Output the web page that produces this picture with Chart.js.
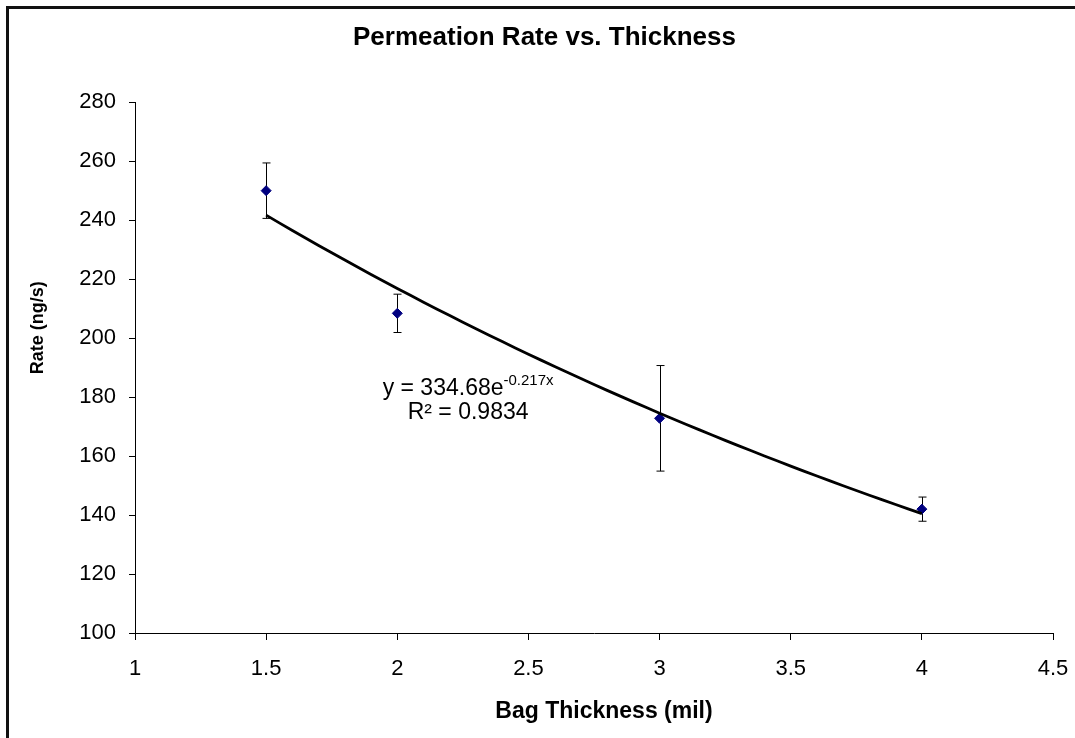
<!DOCTYPE html>
<html>
<head>
<meta charset="utf-8">
<script src="https://cdn.jsdelivr.net/npm/chart.js@4.4.1/dist/chart.umd.min.js"></script>
<style>
  html, body { margin: 0; padding: 0; background: #fff; overflow: hidden; }
  #wrap { position: relative; width: 1075px; height: 738px; }
  #frame { position: absolute; left: 6px; top: 6px; width: 1200px; height: 900px; border: 3px solid #111; box-sizing: border-box; }
  canvas { position: absolute; left: 0; top: 0; }
</style>
</head>
<body>
<div id="wrap">
  <div id="frame"></div>
  <canvas id="chart" width="1075" height="738"></canvas>
</div>
<script>
// Bag thickness (mil) and measured permeation rate (ng/s)
const thickness = [1.5, 2, 3, 4];
const rate = [250.0, 208.4, 172.8, 142.0];
const rateError = [9.4, 6.5, 17.9, 4.1];

// Exponential fit reported on the chart: y = a * e^(b x)
const trendA = 334.68;
const trendB = -0.217;
const trendR2 = 0.9834;

const xRange = { min: 1, max: 4.5, step: 0.5 };
const yRange = { min: 100, max: 280, step: 20 };

const FONT = "'Liberation Sans', Arial, sans-serif";

// sample the fitted curve over the measured range
const trendPoints = [];
for (let x = thickness[0]; x <= thickness[thickness.length - 1] + 1e-9; x += 0.05) {
  trendPoints.push({ x: x, y: trendA * Math.exp(trendB * x) });
}

// vertical error bars with small caps
const errorBars = {
  id: "errorBars",
  beforeDatasetsDraw(chart) {
    const { ctx, scales: { x, y } } = chart;
    ctx.save();
    ctx.strokeStyle = "#000";
    ctx.lineWidth = 1;
    thickness.forEach((t, i) => {
      const px = Math.round(x.getPixelForValue(t)) + 0.5;
      const top = y.getPixelForValue(rate[i] + rateError[i]);
      const bot = y.getPixelForValue(rate[i] - rateError[i]);
      ctx.beginPath();
      ctx.moveTo(px, top);
      ctx.lineTo(px, bot);
      ctx.moveTo(px - 4, top);
      ctx.lineTo(px + 4, top);
      ctx.moveTo(px - 4, bot);
      ctx.lineTo(px + 4, bot);
      ctx.stroke();
    });
    ctx.restore();
  }
};

// trendline equation and both axis titles
const labels = {
  id: "labels",
  afterDraw(chart) {
    const { ctx, chartArea, scales: { x, y } } = chart;
    ctx.save();
    ctx.fillStyle = "#000";
    ctx.textBaseline = "middle";

    const cx = x.getPixelForValue(2.27);
    const base = "y = " + trendA.toFixed(2) + "e";
    const sup = trendB.toFixed(3) + "x";
    ctx.font = "23px " + FONT;
    const wBase = ctx.measureText(base).width;
    ctx.font = "15px " + FONT;
    const wSup = ctx.measureText(sup).width;
    const left = cx - (wBase + wSup) / 2;
    const y1 = y.getPixelForValue(182.7);
    ctx.textAlign = "left";
    ctx.font = "23px " + FONT;
    ctx.fillText(base, left, y1);
    ctx.font = "15px " + FONT;
    ctx.fillText(sup, left + wBase, y1 - 8);

    ctx.font = "23px " + FONT;
    ctx.textAlign = "center";
    ctx.fillText("R\u00b2 = " + trendR2.toFixed(4), cx, y.getPixelForValue(174.6));

    // x-axis title, sitting a little right of the axis centre
    ctx.font = "bold 23px " + FONT;
    ctx.fillText("Bag Thickness (mil)", (chartArea.left + chartArea.right) / 2 + 10, 712);

    ctx.translate(38, chartArea.top + (chartArea.bottom - chartArea.top) * 0.425);
    ctx.rotate(-Math.PI / 2);
    ctx.font = "bold 18px " + FONT;
    ctx.fillText("Rate (ng/s)", 0, 0);
    ctx.restore();
  }
};

new Chart(document.getElementById("chart"), {
  type: "scatter",
  data: {
    datasets: [
      {
        label: "Expon. fit",
        data: trendPoints,
        showLine: true,
        borderColor: "#000",
        borderWidth: 2.8,
        pointRadius: 0,
        tension: 0,
        order: 0
      },
      {
        label: "Rate",
        data: thickness.map((t, i) => ({ x: t, y: rate[i] })),
        pointStyle: "rectRot",
        pointRadius: 5,
        backgroundColor: "#000080",
        borderColor: "#000080",
        borderWidth: 1,
        order: 1
      }
    ]
  },
  options: {
    responsive: false,
    animation: false,
    devicePixelRatio: 1,
    layout: { padding: { left: 36, right: 22, top: 0, bottom: 0 } },
    plugins: {
      legend: { display: false },
      tooltip: { enabled: false },
      title: {
        display: true,
        text: "Permeation Rate vs. Thickness",
        color: "#000",
        font: { family: FONT, size: 26, weight: "bold" },
        padding: { top: 22, bottom: 49 }
      }
    },
    scales: {
      x: {
        type: "linear",
        min: xRange.min,
        max: xRange.max,
        afterFit(scale) {
          scale.height = 105;
          scale.paddingLeft = 0;
          scale.paddingRight = 0;
        },
        ticks: {
          stepSize: xRange.step,
          color: "#000",
          padding: 16,
          font: { family: FONT, size: 22 },
          callback: (v) => String(v)
        },
        grid: { drawOnChartArea: false, drawTicks: true, tickLength: 7, color: "#000" },
        border: { display: true, color: "#000", width: 1 }
      },
      y: {
        type: "linear",
        min: yRange.min,
        max: yRange.max,
        afterFit(scale) { scale.width = 99; },
        ticks: {
          stepSize: yRange.step,
          color: "#000",
          padding: 13,
          font: { family: FONT, size: 22 },
          callback: (v) => String(v)
        },
        grid: { drawOnChartArea: false, drawTicks: true, tickLength: 6, color: "#000" },
        border: { display: true, color: "#000", width: 1 }
      }
    }
  },
  plugins: [errorBars, labels]
});
</script>
</body>
</html>
